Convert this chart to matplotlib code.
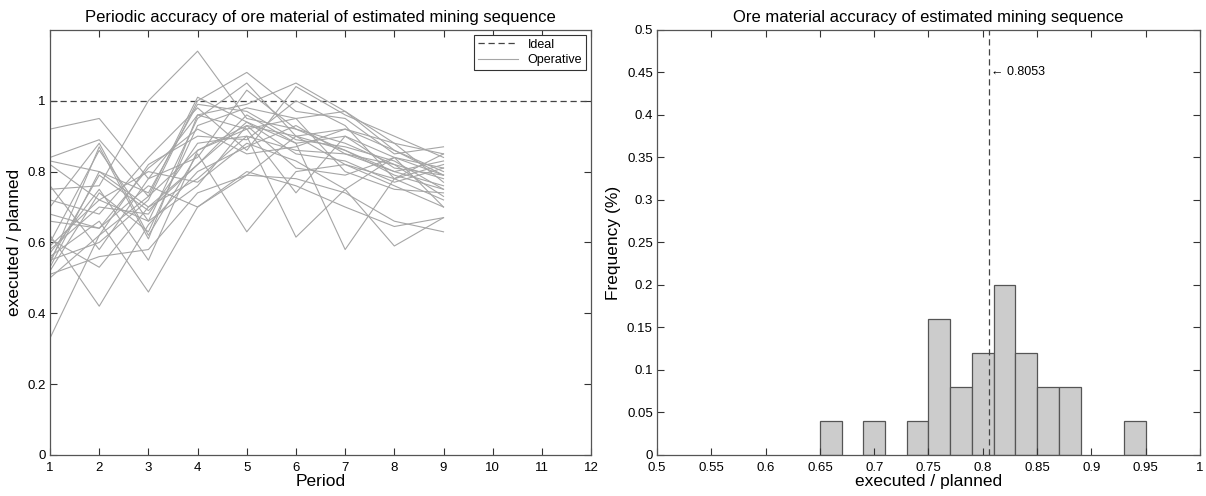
import matplotlib
matplotlib.use("Agg")
import matplotlib.pyplot as plt
import numpy as np

plt.rcParams["font.family"] = ["Liberation Sans", "DejaVu Sans"]

# periods 1..9, one row per operative sequence
periods = [1, 2, 3, 4, 5, 6, 7, 8, 9]
operative = [
    [0.33, 0.62, 0.73, 0.86, 0.93, 0.90, 0.86, 0.80, 0.76],
    [0.92, 0.95, 0.78, 0.96, 0.99, 1.05, 0.97, 0.86, 0.80],
    [0.84, 0.89, 0.73, 1.01, 0.94, 0.88, 0.90, 0.84, 0.79],
    [0.62, 0.42, 0.65, 0.80, 0.87, 0.93, 0.85, 0.82, 0.73],
    [0.56, 0.66, 0.46, 0.70, 0.79, 0.90, 0.82, 0.78, 0.72],
    [0.70, 0.88, 0.62, 0.85, 0.63, 0.80, 0.82, 0.76, 0.70],
    [0.75, 0.76, 1.00, 1.14, 0.95, 0.92, 0.86, 0.79, 0.75],
    [0.58, 0.70, 0.68, 0.88, 0.90, 0.615, 0.75, 0.84, 0.81],
    [0.53, 0.80, 0.70, 0.82, 0.96, 0.88, 0.58, 0.78, 0.82],
    [0.82, 0.72, 0.80, 0.77, 0.88, 0.83, 0.75, 0.59, 0.67],
    [0.55, 0.60, 0.72, 1.00, 1.08, 0.97, 0.95, 0.85, 0.87],
    [0.60, 0.86, 0.66, 0.95, 1.05, 0.90, 0.92, 0.88, 0.85],
    [0.51, 0.56, 0.58, 0.74, 0.79, 0.78, 0.74, 0.66, 0.63],
    [0.68, 0.64, 0.76, 0.70, 0.80, 0.76, 0.70, 0.645, 0.67],
    [0.52, 0.74, 0.63, 0.93, 0.98, 0.95, 0.97, 0.88, 0.77],
    [0.72, 0.68, 0.84, 0.98, 0.86, 1.04, 0.96, 0.90, 0.84],
    [0.76, 0.58, 0.78, 0.84, 1.03, 0.92, 0.88, 0.82, 0.78],
    [0.54, 0.87, 0.61, 0.96, 0.92, 0.95, 0.80, 0.75, 0.74],
    [0.61, 0.53, 0.70, 0.78, 0.90, 0.86, 0.85, 0.80, 0.83],
    [0.57, 0.75, 0.55, 0.86, 0.92, 0.74, 0.90, 0.81, 0.79],
    [0.83, 0.80, 0.74, 0.99, 0.97, 0.89, 0.87, 0.83, 0.75],
    [0.50, 0.62, 0.82, 0.90, 0.89, 1.00, 0.93, 0.78, 0.85],
    [0.59, 0.72, 0.66, 0.76, 0.93, 0.81, 0.79, 0.84, 0.70],
    [0.66, 0.64, 0.81, 0.92, 0.85, 0.87, 0.92, 0.86, 0.79],
    [0.55, 0.79, 0.69, 0.82, 0.94, 0.85, 0.83, 0.77, 0.81],
]
ideal = 1.0

# histogram of overall accuracy (bin left edges, width 0.02)
bin_left = [0.65, 0.69, 0.73, 0.75, 0.77, 0.79, 0.81, 0.83, 0.85, 0.87, 0.93]
frequency = [0.04, 0.04, 0.04, 0.16, 0.08, 0.12, 0.20, 0.12, 0.08, 0.08, 0.04]
bin_width = 0.02
mean_value = 0.8053

left_xticks = list(range(1, 13))
left_yticks = [0, 0.2, 0.4, 0.6, 0.8, 1]
left_ylabels = ["0", "0.2", "0.4", "0.6", "0.8", "1"]
right_xticks = [0.5, 0.55, 0.6, 0.65, 0.7, 0.75, 0.8, 0.85, 0.9, 0.95, 1]
right_xlabels = ["0.5", "0.55", "0.6", "0.65", "0.7", "0.75", "0.8", "0.85", "0.9", "0.95", "1"]
right_yticks = [0, 0.05, 0.1, 0.15, 0.2, 0.25, 0.3, 0.35, 0.4, 0.45, 0.5]
right_ylabels = ["0", "0.05", "0.1", "0.15", "0.2", "0.25", "0.3", "0.35", "0.4", "0.45", "0.5"]


def matlab_style(ax):
    ax.tick_params(direction="in", top=True, right=True, length=5, width=0.8,
                   labelsize=9.5, colors="#333333", labelcolor="black", pad=3)
    ax.tick_params(axis="x", pad=5)
    for sp in ax.spines.values():
        sp.set_color("#555555")
        sp.set_linewidth(0.9)


fig = plt.figure(figsize=(12.06, 4.96), dpi=100)
ax1 = fig.add_axes([0.0415, 0.0827, 0.4486, 0.857])
ax2 = fig.add_axes([0.5448, 0.0827, 0.4502, 0.857])

# left panel
ax1.axhline(ideal, color="#444444", linestyle=(0, (5, 3)), linewidth=0.9, label="Ideal")
for i, row in enumerate(operative):
    ax1.plot(periods, row, color="#a6a6a6", linewidth=0.8,
             label="Operative" if i == 0 else None)
ax1.set_xlim(1, 12)
ax1.set_ylim(0, 1.2)
ax1.set_xticks(left_xticks)
ax1.set_yticks(left_yticks)
ax1.set_yticklabels(left_ylabels)
ax1.set_xlabel("Period", fontsize=12.5, labelpad=0)
ax1.set_ylabel("executed / planned", fontsize=12.5, labelpad=4)
ax1.set_title("Periodic accuracy of ore material of estimated mining sequence",
              fontsize=12, pad=6)
leg = ax1.legend(loc="upper right", fontsize=9, fancybox=False, framealpha=1,
                 borderaxespad=0.4, handlelength=3.2, borderpad=0.3, labelspacing=0.3)
leg.get_frame().set_edgecolor("#333333")
leg.get_frame().set_linewidth(0.8)
matlab_style(ax1)

# right panel
ax2.bar(bin_left, frequency, width=bin_width, align="edge",
        color="#cccccc", edgecolor="#555555", linewidth=0.9)
ax2.axvline(mean_value, color="#444444", linestyle=(0, (5, 3)), linewidth=0.9)
ax2.annotate("\u2190 " + f"{mean_value:.4f}", xy=(mean_value, 0.45),
             xytext=(2, 0), textcoords="offset points", fontsize=9,
             va="center", ha="left")
ax2.set_xlim(0.5, 1)
ax2.set_ylim(0, 0.5)
ax2.set_xticks(right_xticks)
ax2.set_xticklabels(right_xlabels)
ax2.set_yticks(right_yticks)
ax2.set_yticklabels(right_ylabels)
ax2.set_xlabel("executed / planned", fontsize=12.5, labelpad=0)
ax2.set_ylabel("Frequency (%)", fontsize=12.5, labelpad=4)
ax2.set_title("Ore material accuracy of estimated mining sequence",
              fontsize=12, pad=6)
matlab_style(ax2)

fig.savefig("out.png", dpi=100)
